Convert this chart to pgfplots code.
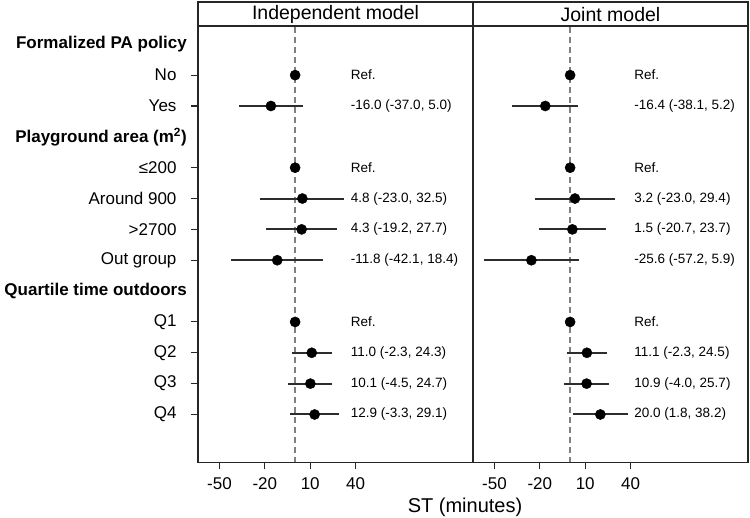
\documentclass[border=0pt]{standalone}
\usepackage{fontspec}
\setmainfont{Liberation Sans}
\usepackage{pgfplots}
\pgfplotsset{compat=1.18}

% rows: 1 = heading, 2 = No, 3 = Yes, 4 = heading, 5-8 area, 9 = heading, 10-13 quartiles

\definecolor{cigray}{RGB}{45,45,45}
\definecolor{refline}{RGB}{128,128,128}

\newcommand{\lab}{\fontsize{17}{20}\selectfont}
\newcommand{\cilab}{\fontsize{13.5}{16}\selectfont}

\pgfplotsset{
  every axis title shift=0pt,
  panel/.style={
    scale only axis, width=275pt, height=435.6pt,
    xmin=-64.2, xmax=117.6, ymin=0.43, ymax=14.55, y dir=reverse,
    axis line style={line width=1.3pt, black!85},
    xtick={-50,-20,10,40}, xticklabels={-50,-20,10,40},
    xtick pos=lower, tick align=outside, major tick length=7pt,
    tick style={line width=1.1pt, black!85},
    ticklabel style={font=\lab},
    xticklabel style={yshift=-5pt},
    clip=false,
    title style={at={(0.5,1)}, anchor=south, draw=black!85, line width=1.3pt,
      minimum width=275pt, minimum height=24pt, inner sep=0pt, font=\fontsize{19.5}{22}\selectfont},
  },
  ci/.style={line width=2pt, cigray, forget plot},
  dots/.style={only marks, mark=*, mark size=5.1pt, black},
}

\begin{document}
\begin{tikzpicture}
\useasboundingbox (0,0) rectangle (750pt,517pt);

\begin{axis}[panel, at={(198pt,54.7pt)}, anchor=south west,
  title={Independent model},
  ytick={2,3,5,6,7,8,10,11,12,13}, ytick pos=left,
  yticklabels={No,Yes,{≤200},Around 900,>2700,Out group,Q1,Q2,Q3,Q4},
  yticklabel style={xshift=-11pt}]
\addplot[refline, line width=1.3pt, dash pattern=on 6pt off 4pt] coordinates {(0,0.43) (0,14.55)};
\addplot[ci] coordinates {(-37.0,3) (5.0,3)};
\addplot[ci] coordinates {(-23.0,6) (32.5,6)};
\addplot[ci] coordinates {(-19.2,7) (27.7,7)};
\addplot[ci] coordinates {(-42.1,8) (18.4,8)};
\addplot[ci] coordinates {(-2.3,11) (24.3,11)};
\addplot[ci] coordinates {(-4.5,12) (24.7,12)};
\addplot[ci] coordinates {(-3.3,13) (29.1,13)};
\addplot[dots] coordinates {(0,2) (-16.0,3) (0,5) (4.8,6) (4.3,7) (-11.8,8) (0,10) (11.0,11) (10.1,12) (12.9,13)};
\node[anchor=west, font=\cilab] at (axis cs:34.6,2) {Ref.};
\node[anchor=west, font=\cilab] at (axis cs:34.6,3) {-16.0 (-37.0, 5.0)};
\node[anchor=west, font=\cilab] at (axis cs:34.6,5) {Ref.};
\node[anchor=west, font=\cilab] at (axis cs:34.6,6) {4.8 (-23.0, 32.5)};
\node[anchor=west, font=\cilab] at (axis cs:34.6,7) {4.3 (-19.2, 27.7)};
\node[anchor=west, font=\cilab] at (axis cs:34.6,8) {-11.8 (-42.1, 18.4)};
\node[anchor=west, font=\cilab] at (axis cs:34.6,10) {Ref.};
\node[anchor=west, font=\cilab] at (axis cs:34.6,11) {11.0 (-2.3, 24.3)};
\node[anchor=west, font=\cilab] at (axis cs:34.6,12) {10.1 (-4.5, 24.7)};
\node[anchor=west, font=\cilab] at (axis cs:34.6,13) {12.9 (-3.3, 29.1)};
\node[anchor=east, font=\lab\bfseries, xshift=-7.7pt] at (axis cs:-64.2,1) {Formalized PA policy};
\node[anchor=east, font=\lab\bfseries, xshift=-7.7pt] at (axis cs:-64.2,4) {Playground area (m\textsuperscript{2})};
\node[anchor=east, font=\lab\bfseries, xshift=-7.7pt] at (axis cs:-64.2,9) {Quartile time outdoors};
\end{axis}

\begin{axis}[panel, at={(473pt,54.7pt)}, anchor=south west,
  title={Joint model}, ytick=\empty]
\addplot[refline, line width=1.3pt, dash pattern=on 6pt off 4pt] coordinates {(0,0.43) (0,14.55)};
\addplot[ci] coordinates {(-38.1,3) (5.2,3)};
\addplot[ci] coordinates {(-23.0,6) (29.4,6)};
\addplot[ci] coordinates {(-20.7,7) (23.7,7)};
\addplot[ci] coordinates {(-57.2,8) (5.9,8)};
\addplot[ci] coordinates {(-2.3,11) (24.5,11)};
\addplot[ci] coordinates {(-4.0,12) (25.7,12)};
\addplot[ci] coordinates {(1.8,13) (38.2,13)};
\addplot[dots] coordinates {(0,2) (-16.4,3) (0,5) (3.2,6) (1.5,7) (-25.6,8) (0,10) (11.1,11) (10.9,12) (20.0,13)};
\node[anchor=west, font=\cilab] at (axis cs:40.2,2) {Ref.};
\node[anchor=west, font=\cilab] at (axis cs:40.2,3) {-16.4 (-38.1, 5.2)};
\node[anchor=west, font=\cilab] at (axis cs:40.2,5) {Ref.};
\node[anchor=west, font=\cilab] at (axis cs:40.2,6) {3.2 (-23.0, 29.4)};
\node[anchor=west, font=\cilab] at (axis cs:40.2,7) {1.5 (-20.7, 23.7)};
\node[anchor=west, font=\cilab] at (axis cs:40.2,8) {-25.6 (-57.2, 5.9)};
\node[anchor=west, font=\cilab] at (axis cs:40.2,10) {Ref.};
\node[anchor=west, font=\cilab] at (axis cs:40.2,11) {11.1 (-2.3, 24.5)};
\node[anchor=west, font=\cilab] at (axis cs:40.2,12) {10.9 (-4.0, 25.7)};
\node[anchor=west, font=\cilab] at (axis cs:40.2,13) {20.0 (1.8, 38.2)};
\node[font=\fontsize{20}{23}\selectfont, yshift=-45pt, xshift=-8pt] at (rel axis cs:0,0) {ST (minutes)};
\end{axis}
\end{tikzpicture}
\end{document}
